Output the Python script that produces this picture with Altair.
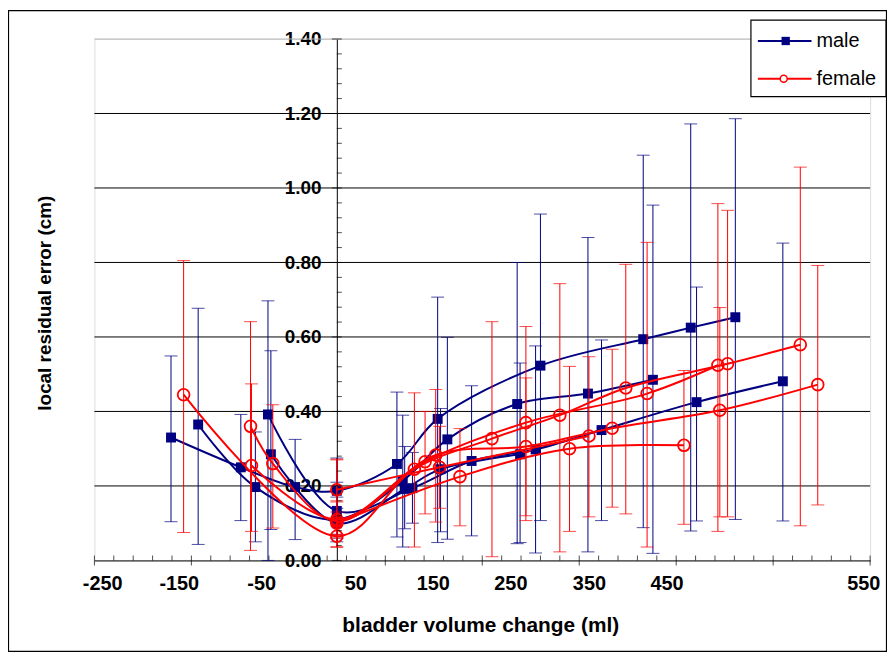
import altair as alt
import pandas as pd

# ---------------- data ----------------
# male subjects: volume change (ml), mean error (cm), error-bar low, error-bar high
m1_vol = [-143, -84, 0, 68, 114, 186, 259, 326]
m1_err = [0.365, 0.197, 0.11, 0.214, 0.325, 0.42, 0.448, 0.485]
m1_lo = [0.043, 0.05, 0.05, 0.036, 0.057, 0.045, 0.023, 0.019]
m1_hi = [0.677, 0.345, 0.17, 0.39, 0.599, 0.80, 0.867, 0.954]

m2_vol = [-171, -99, -43, 0, 62, 104, 210, 316, 365, 411]
m2_err = [0.33, 0.25, 0.197, 0.187, 0.259, 0.38, 0.523, 0.594, 0.625, 0.653]
m2_lo = [0.104, 0.107, 0.056, 0.10, 0.063, 0.048, 0.107, 0.088, 0.079, 0.11]
m2_hi = [0.549, 0.392, 0.325, 0.275, 0.452, 0.707, 0.93, 1.088, 1.172, 1.186]

m3_vol = [-71, 0, 78, 139, 205, 273, 371, 460]
m3_err = [0.392, 0.133, 0.194, 0.267, 0.298, 0.35, 0.425, 0.481]
m3_lo = [0.0, 0.06, 0.10, 0.066, 0.02, 0.107, 0.106, 0.106]
m3_hi = [0.697, 0.21, 0.29, 0.469, 0.576, 0.592, 0.734, 0.852]

m4_vol = [-68, 0, 70, 107, 189]
m4_err = [0.285, 0.10, 0.192, 0.245, 0.285]
m4_lo = [0.083, 0.07, 0.085, 0.077, 0.048]
m4_hi = [0.563, 0.14, 0.306, 0.408, 0.53]

# female subjects
f1_vol = [-158, 0, 80, 160, 230, 298, 403, 478]
f1_err = [0.445, 0.065, 0.245, 0.327, 0.39, 0.463, 0.528, 0.579]
f1_lo = [0.075, 0.035, 0.036, 0.01, 0.023, 0.125, 0.117, 0.093]
f1_hi = [0.805, 0.10, 0.45, 0.641, 0.743, 0.795, 0.94, 1.056]

f2_vol = [-89, -66, 0, 91, 195, 320, 393]
f2_err = [0.36, 0.26, 0.105, 0.265, 0.37, 0.448, 0.524]
f2_lo = [0.027, 0.087, 0.06, 0.125, 0.107, 0.036, 0.078]
f2_hi = [0.641, 0.418, 0.16, 0.40, 0.628, 0.854, 0.958]

f3_vol = [-88, 0, 102, 195, 284, 395, 496]
f3_err = [0.255, 0.11, 0.283, 0.306, 0.355, 0.403, 0.472]
f3_lo = [0.078, 0.037, 0.103, 0.12, 0.143, 0.117, 0.149]
f3_hi = [0.474, 0.27, 0.459, 0.49, 0.567, 0.679, 0.792]

f4_vol = [0, 106, 260]
f4_err = [0.19, 0.25, 0.334]
f4_lo = [0.157, 0.14, 0.117]
f4_hi = [0.272, 0.36, 0.547]

f5_vol = [0, 127, 240, 358]
f5_err = [0.10, 0.225, 0.30, 0.309]
f5_lo = [0.07, 0.093, 0.078, 0.097]
f5_hi = [0.13, 0.354, 0.521, 0.51]

# x tick labels as printed, and where the reference prints them along the axis
x_label_text = ["-250", "-150", "-50", "50", "150", "250", "350", "450", "550"]
x_label_at = [-242, -163, -78, 19, 99, 179, 260, 340, 543]
x_major_ticks = [-250, -150, -50, 50, 150, 250, 350, 450, 550]
y_labels = [0.0, 0.2, 0.4, 0.6, 0.8, 1.0, 1.2, 1.4]
grid_black = [0.2, 0.4, 0.6, 0.8, 1.0, 1.2]
grid_grey = [1.4]

NAVY = "#000080"
RED = "#ff0000"
FONT = "Liberation Sans"


def frame(series, sex):
    rows = []
    for sid, (vol, err, lo, hi) in series.items():
        for i, (v, e, l, h) in enumerate(zip(vol, err, lo, hi)):
            rows.append(dict(series=sid, sex=sex, order=i, vol=v, err=e, lo=l, hi=h))
    return pd.DataFrame(rows)


male = frame({"m1": (m1_vol, m1_err, m1_lo, m1_hi),
              "m2": (m2_vol, m2_err, m2_lo, m2_hi),
              "m3": (m3_vol, m3_err, m3_lo, m3_hi),
              "m4": (m4_vol, m4_err, m4_lo, m4_hi)}, "male")
female = frame({"f1": (f1_vol, f1_err, f1_lo, f1_hi),
                "f2": (f2_vol, f2_err, f2_lo, f2_hi),
                "f3": (f3_vol, f3_err, f3_lo, f3_hi),
                "f4": (f4_vol, f4_err, f4_lo, f4_hi),
                "f5": (f5_vol, f5_err, f5_lo, f5_hi)}, "female")

xs = alt.Scale(domain=[-250, 550], nice=False, zero=False)
ys = alt.Scale(domain=[0, 1.4], nice=False, zero=False)

W, H = 781, 525
X_ZERO_PX = 250 / 800 * W  # pixel position of x = 0 inside the plot

label_expr = "[{}][indexof([{}], datum.value)]".format(
    ",".join("'%s'" % t for t in x_label_text), ",".join(str(v) for v in x_label_at))

xaxis = alt.Axis(values=x_label_at, labelExpr=label_expr, labelFont=FONT, labelFontWeight="bold",
                 labelFontSize=20, labelColor="black", ticks=False, domainColor="black",
                 domainWidth=1, grid=False, title=None, labelPadding=13, labelOverlap=False,
                 labelFlush=False)
yaxis = alt.Axis(values=y_labels, format=".2f", labelFont=FONT, labelFontWeight="bold",
                 labelFontSize=19, labelColor="black", ticks=False, domainColor="black",
                 domainWidth=1, grid=False, title=None, labelPadding=16,
                 offset=-X_ZERO_PX, labelBaseline="middle")


def X(field):
    return alt.X(field, scale=xs, axis=xaxis, title=None)


def Y(field):
    return alt.Y(field, scale=ys, axis=yaxis, title=None)


# ---------------- grid ----------------
grid = alt.Chart(pd.DataFrame({"g": grid_black, "a": -250, "b": 550})).mark_rule(
    color="black", strokeWidth=1).encode(y=Y("g:Q"), x=X("a:Q"), x2="b:Q")
grid_top = alt.Chart(pd.DataFrame({"g": grid_grey, "a": -250, "b": 550})).mark_rule(
    color="#b8b8b8", strokeWidth=1).encode(y=Y("g:Q"), x=X("a:Q"), x2="b:Q")

# ---------------- ticks ----------------
yt_major = pd.DataFrame({"t": y_labels, "z": 0})
yt_minor = pd.DataFrame({"t": [round(0.04 * i, 2) for i in range(36) if i % 5 != 0], "z": 0})
xt_major = pd.DataFrame({"t": x_major_ticks, "z": 0})
xt_minor = pd.DataFrame({"t": [-250 + 20 * i for i in range(41) if i % 5 != 0], "z": 0})

ytick_major = alt.Chart(yt_major).mark_tick(orient="horizontal", size=10, thickness=1,
                                            color="black").encode(x=X("z:Q"), y=Y("t:Q"))
ytick_minor = alt.Chart(yt_minor).mark_tick(orient="horizontal", size=5, thickness=1, color="black",
                                            xOffset=2.5).encode(x=X("z:Q"), y=Y("t:Q"))
xtick_major = alt.Chart(xt_major).mark_tick(orient="vertical", size=10, thickness=1,
                                            color="black").encode(x=X("t:Q"), y=Y("z:Q"))
xtick_minor = alt.Chart(xt_minor).mark_tick(orient="vertical", size=5, thickness=1, color="black",
                                            yOffset=-2.5).encode(x=X("t:Q"), y=Y("z:Q"))


# ---------------- series ----------------
def series_layers(df, color, point_mark):
    bars = alt.Chart(df).mark_rule(color=color, strokeWidth=1).encode(
        x=X("vol:Q"), y=Y("lo:Q"), y2="hi:Q")
    cap_lo = alt.Chart(df).mark_tick(orient="horizontal", size=13, thickness=1, color=color).encode(
        x=X("vol:Q"), y=Y("lo:Q"))
    cap_hi = alt.Chart(df).mark_tick(orient="horizontal", size=13, thickness=1, color=color).encode(
        x=X("vol:Q"), y=Y("hi:Q"))
    line = alt.Chart(df).mark_line(color=color, strokeWidth=2, interpolate="catmull-rom").encode(
        x=X("vol:Q"), y=Y("err:Q"), detail="series:N", order="order:Q")
    pts = alt.Chart(df).mark_point(**point_mark).encode(x=X("vol:Q"), y=Y("err:Q"))
    return [bars, cap_lo, cap_hi, line, pts]


male_layers = series_layers(male, NAVY, dict(shape="square", filled=True, size=100, color=NAVY,
                                             opacity=1, strokeWidth=0))
female_layers = series_layers(female, RED, dict(shape="circle", filled=False, size=140, color=RED,
                                                opacity=1, strokeWidth=1.8))

# ---------------- titles, legend, border ----------------
one = pd.DataFrame({"k": [0]})
border = alt.Chart(one).mark_rect(fill=None, stroke="black", strokeWidth=1.2).encode(
    x=alt.value(-86.5), x2=alt.value(797.5), y=alt.value(-28.5), y2=alt.value(616.5))
ytitle = alt.Chart(one).mark_text(angle=270, font=FONT, fontSize=19, fontWeight="bold",
                                  align="center", baseline="middle", color="black").encode(
    x=alt.value(-50), y=alt.value(266), text=alt.value("local residual error (cm)"))
xtitle = alt.Chart(one).mark_text(font=FONT, fontSize=21, fontWeight="bold",
                                  align="center", baseline="middle", color="black").encode(
    x=alt.value(389), y=alt.value(591), text=alt.value("bladder volume change (ml)"))

leg_box = alt.Chart(one).mark_rect(fill="white", stroke="black", strokeWidth=1.2).encode(
    x=alt.value(661), x2=alt.value(797), y=alt.value(-19), y2=alt.value(58))
leg_m_line = alt.Chart(one).mark_rule(color=NAVY, strokeWidth=2).encode(
    x=alt.value(668), x2=alt.value(722), y=alt.value(2))
leg_m_pt = alt.Chart(one).mark_point(shape="square", filled=True, size=70, color=NAVY, opacity=1).encode(
    x=alt.value(696), y=alt.value(2))
leg_m_txt = alt.Chart(one).mark_text(font=FONT, fontSize=20, align="left", baseline="middle",
                                     color="black").encode(
    x=alt.value(727), y=alt.value(2), text=alt.value("male"))
leg_f_line = alt.Chart(one).mark_rule(color=RED, strokeWidth=2).encode(
    x=alt.value(668), x2=alt.value(722), y=alt.value(40))
leg_f_pt = alt.Chart(one).mark_point(shape="circle", filled=True, size=50, fill="white", stroke=RED,
                                     strokeWidth=1.5, opacity=1).encode(
    x=alt.value(694), y=alt.value(40))
leg_f_txt = alt.Chart(one).mark_text(font=FONT, fontSize=20, align="left", baseline="middle",
                                     color="black").encode(
    x=alt.value(727), y=alt.value(40), text=alt.value("female"))

chart = alt.layer(
    grid, grid_top,
    *male_layers, *female_layers,
    ytick_major, ytick_minor, xtick_major, xtick_minor,
    ytitle, xtitle,
    leg_box, leg_m_line, leg_m_pt, leg_m_txt, leg_f_line, leg_f_pt, leg_f_txt,
    border,
).properties(
    width=W, height=H,
    autosize=alt.AutoSizeParams(type="none"),
    padding={"left": 87, "top": 29, "right": 17, "bottom": 92},
).configure_view(stroke=None).configure(font=FONT)

chart.save("out.html", embed_options={"renderer": "svg", "actions": False})
